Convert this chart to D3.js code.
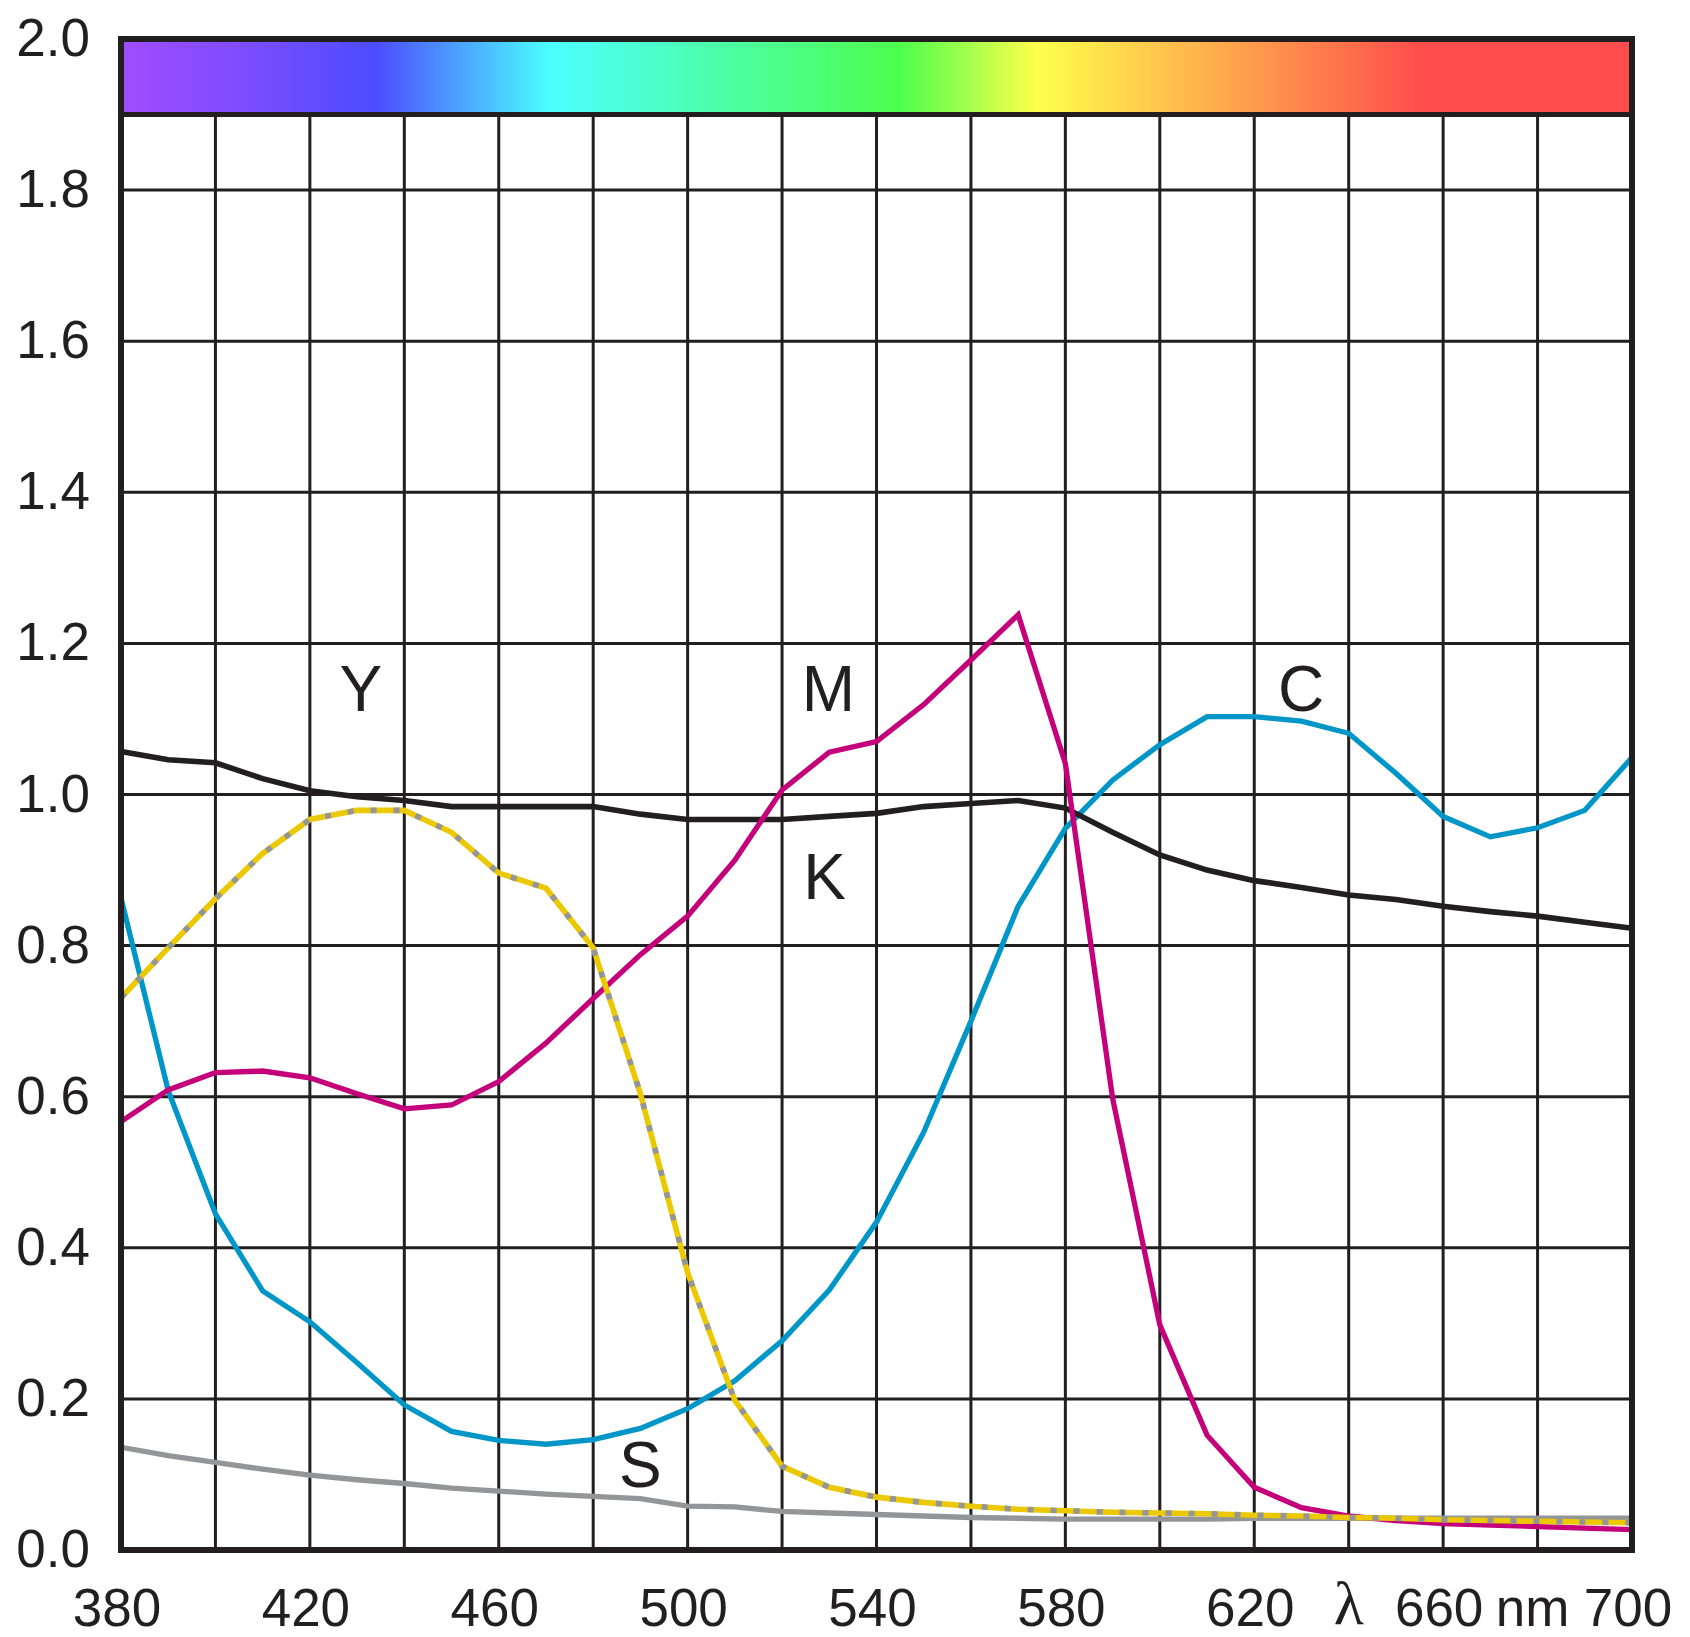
<!DOCTYPE html>
<html><head><meta charset="utf-8">
<script src="https://cdn.jsdelivr.net/npm/d3@7"></script>
<style>html,body{margin:0;padding:0;background:#fff;}svg{display:block;}</style>
</head><body>
<svg id="chart" width="1690" height="1637"></svg>
<script>
const wavelengths = [380,390,400,410,420,430,440,450,460,470,480,490,500,510,520,530,540,550,560,570,580,590,600,610,620,630,640,650,660,670,680,690,700];
const kValues = [1.057,1.046,1.042,1.021,1.005,0.997,0.992,0.984,0.984,0.984,0.984,0.974,0.967,0.967,0.967,0.971,0.975,0.984,0.988,0.992,0.982,0.950,0.920,0.900,0.886,0.877,0.867,0.861,0.852,0.845,0.839,0.831,0.823];
const cValues = [0.863,0.608,0.445,0.343,0.302,0.248,0.192,0.157,0.145,0.140,0.146,0.161,0.187,0.224,0.277,0.344,0.434,0.553,0.700,0.852,0.955,1.019,1.066,1.103,1.103,1.097,1.081,1.028,0.971,0.944,0.956,0.979,1.049];
const mValues = [0.567,0.609,0.632,0.634,0.625,0.604,0.584,0.589,0.620,0.671,0.730,0.788,0.839,0.913,1.006,1.056,1.070,1.119,1.178,1.238,1.041,0.598,0.298,0.152,0.083,0.056,0.045,0.039,0.035,0.033,0.031,0.029,0.027];
const yValues = [0.731,0.797,0.862,0.922,0.967,0.979,0.979,0.950,0.896,0.876,0.797,0.604,0.367,0.198,0.111,0.083,0.070,0.063,0.058,0.054,0.052,0.050,0.049,0.048,0.046,0.045,0.043,0.042,0.040,0.039,0.038,0.037,0.036];
const sValues = [0.136,0.125,0.116,0.107,0.099,0.093,0.088,0.082,0.078,0.074,0.071,0.068,0.058,0.057,0.051,0.049,0.047,0.045,0.043,0.042,0.041,0.041,0.041,0.041,0.042,0.042,0.042,0.042,0.042,0.042,0.042,0.042,0.042];
const yTicks = [0,0.2,0.4,0.6,0.8,1.0,1.2,1.4,1.6,1.8,2.0];
const xGrid = [400,420,440,460,480,500,520,540,560,580,600,620,640,660,680];
const xTickLabels = [[380,"380"],[420,"420"],[460,"460"],[500,"500"],[540,"540"],[580,"580"],[620,"620"],[660,"660"],[700,"700"]];
const spectrumStops = [[380,"#a24cff"],[405,"#7f4cff"],[434,"#4c4cff"],[471,"#4cffff"],[545,"#4cff4c"],[574,"#ffff4c"],[656,"#ff4c4c"],[700,"#ff4c4c"]];
const curveLabels = [["Y",430.8],["M",529.8],["K",529],["C",629.9],["S",490]];
const curveLabelValues = [1.111,1.111,0.862,1.111,0.084];

const svg = d3.select("#chart");
const x = d3.scaleLinear().domain([380,700]).range([121,1632]);
const y = d3.scaleLinear().domain([0,2]).range([1550,39]);
const ink = "#231f20";
const font = "'Liberation Sans', Arial, Helvetica, sans-serif";

// spectrum gradient
const defs = svg.append("defs");
const grad = defs.append("linearGradient").attr("id","spec")
  .attr("gradientUnits","userSpaceOnUse").attr("x1",x(380)).attr("x2",x(700)).attr("y1",0).attr("y2",0);
spectrumStops.forEach(([nm,c]) => grad.append("stop").attr("offset",(nm-380)/320).attr("stop-color",c));
svg.append("rect").attr("x",x(380)).attr("y",y(2.0)).attr("width",x(700)-x(380)).attr("height",y(1.9)-y(2.0)).attr("fill","url(#spec)");

// grid
const g = svg.append("g");
g.selectAll("line.h").data(yTicks.filter(v => v>0 && v<2)).join("line")
  .attr("x1",x(380)).attr("x2",x(700)).attr("y1",d=>y(d)).attr("y2",d=>y(d))
  .attr("stroke",ink).attr("stroke-width",3);
g.selectAll("line.v").data(xGrid).join("line")
  .attr("x1",d=>x(d)).attr("x2",d=>x(d)).attr("y1",y(1.9)).attr("y2",y(0))
  .attr("stroke",ink).attr("stroke-width",3);
g.append("line").attr("x1",x(380)).attr("x2",x(700)).attr("y1",y(1.9)).attr("y2",y(1.9)).attr("stroke",ink).attr("stroke-width",5);

// curves
const line = d3.line().x((d,i)=>x(wavelengths[i])).y(d=>y(d));
const curves = svg.append("g").attr("fill","none").attr("stroke-linejoin","miter");
curves.append("path").attr("d",line(sValues)).attr("stroke","#939598").attr("stroke-width",5.3);
curves.append("path").attr("d",line(cValues)).attr("stroke","#0096c8").attr("stroke-width",5.3);
curves.append("path").attr("d",line(kValues)).attr("stroke",ink).attr("stroke-width",5.6);
curves.append("path").attr("d",line(mValues)).attr("stroke","#c4007a").attr("stroke-width",5.3);
curves.append("path").attr("d",line(yValues)).attr("stroke","#ecc800").attr("stroke-width",5.6);
curves.append("path").attr("d",line(yValues)).attr("stroke","#939598").attr("stroke-width",5.6).attr("stroke-dasharray","6 17");

// frame
svg.append("rect").attr("x",x(380)).attr("y",y(2)).attr("width",x(700)-x(380)).attr("height",y(0)-y(2))
  .attr("fill","none").attr("stroke",ink).attr("stroke-width",6);

// y tick labels
svg.append("g").selectAll("text").data(yTicks).join("text")
  .attr("x",90).attr("y",d=>y(d)+17).attr("text-anchor","end")
  .attr("font-family",font).attr("font-size",53).attr("fill",ink)
  .text(d=>d.toFixed(1));

// x tick labels
svg.append("g").selectAll("text").data(xTickLabels).join("text")
  .attr("x",d=>x(d[0])-4).attr("y",1626).attr("text-anchor","middle")
  .attr("font-family",font).attr("font-size",53).attr("fill",ink)
  .text(d=>d[1]);
svg.append("text").attr("x",x(640)).attr("y",1624).attr("text-anchor","middle")
  .attr("font-family","'Liberation Serif', 'DejaVu Serif', serif").attr("font-size",62).attr("fill",ink).text("λ");
svg.append("text").attr("x",x(680)-5).attr("y",1626).attr("text-anchor","middle")
  .attr("font-family",font).attr("font-size",53).attr("fill",ink).text("nm");

// curve labels
svg.append("g").selectAll("text").data(curveLabels).join("text")
  .attr("x",d=>x(d[1])).attr("y",(d,i)=>y(curveLabelValues[i])).attr("text-anchor","middle")
  .attr("font-family",font).attr("font-size",64).attr("fill",ink)
  .text(d=>d[0]);
</script>
</body></html>
